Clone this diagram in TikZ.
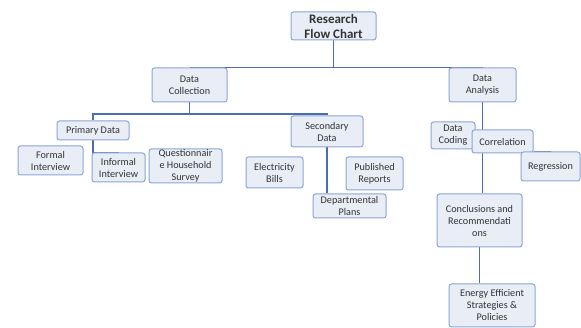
\documentclass[tikz,border=0pt]{standalone}
\usepackage{fontspec}
\setmainfont{Carlito}
\definecolor{boxfill}{HTML}{E8EDF6}
\definecolor{boxline}{HTML}{8CA5D6}
\definecolor{linkcol}{HTML}{4A6DB3}
\definecolor{txt}{HTML}{333333}
\pgfdeclarelayer{paper}
\pgfdeclarelayer{links}
\pgfsetlayers{paper,links,main}
\begin{document}
\begin{tikzpicture}[x=1pt,y=-1pt,
  box/.style={draw=boxline, fill=boxfill, rounded corners=2.5pt, line width=1pt,
    align=center, inner sep=0pt, text=txt, font=\fontsize{10.2}{12}\selectfont},
  title/.style={font=\fontsize{13}{15}\selectfont\bfseries},
  conn/.style={draw=linkcol, line width=1.1pt}]
\useasboundingbox (0,0) rectangle (581,328);
\begin{pgfonlayer}{paper}
\fill[white] (0,0) rectangle (581,328);
\end{pgfonlayer}
% nodes
\node[box, title, minimum width=85pt, minimum height=28pt] (rfc) at (333.5,26) {Research\\Flow Chart};
\node[box, minimum width=75pt, minimum height=34pt] (dc) at (189.5,85) {Data\\Collection};
\node[box, minimum width=67pt, minimum height=34pt] (da) at (482.5,85) {Data\\Analysis};
\node[box, minimum width=72pt, minimum height=19pt] (pd) at (93,130.5) {Primary Data};
\node[box, minimum width=72pt, minimum height=31pt] (sd) at (327,131.5) {Secondary\\Data};
\node[box, minimum width=65pt, minimum height=29pt] (fi) at (50.5,160.5) {Formal\\Interview};
\node[box, minimum width=53pt, minimum height=29pt] (ii) at (118.5,167.5) {Informal\\Interview};
\node[box, minimum width=73pt, minimum height=34pt] (qs) at (185.5,166) {Questionnair\\e Household\\Survey};
\node[box, minimum width=57pt, minimum height=31pt] (eb) at (274.5,172.5) {Electricity\\Bills};
\node[box, minimum width=57pt, minimum height=33pt] (pr) at (374.5,173.5) {Published\\Reports};
\node[box, minimum width=73pt, minimum height=24pt] (dp) at (349.5,206) {Departmental\\Plans};
\node[box, minimum width=44pt, minimum height=27pt] (dcod) at (453,135.5) {Data\\Coding};
\node[box, minimum width=61pt, minimum height=23pt] (corr) at (502.5,141.5) {Correlation};
\node[box, minimum width=59pt, minimum height=29pt] (reg) at (550.5,166.5) {Regression};
\node[box, minimum width=85pt, minimum height=53pt] (con) at (479.5,220.5) {Conclusions and\\Recommendati\\ons};
\node[box, minimum width=86pt, minimum height=43pt] (ee) at (492,305.5) {Energy Efficient\\Strategies \&\\Policies};
% connectors beneath the boxes
\begin{pgfonlayer}{links}
\coordinate (jdc) at (189.5,114);
\draw[conn] (rfc.south) |- (dc.north);
\draw[conn] (rfc.south) |- (da.north);
\draw[conn] (dc.south) -- (jdc) -| (pd.north);
\draw[conn] (jdc) -| (sd.north);
\draw[conn] (pd.south) |- (ii.north);
\draw[conn] (sd.south) -- (sd.south |- dp.north);
\draw[conn] (da.south) -- (da.south |- con.north);
\draw[conn] (corr.east |- reg.north) -- (reg.north);
\draw[conn] (con.south) -- (con.south |- ee.north);
\end{pgfonlayer}
\end{tikzpicture}
\end{document}
